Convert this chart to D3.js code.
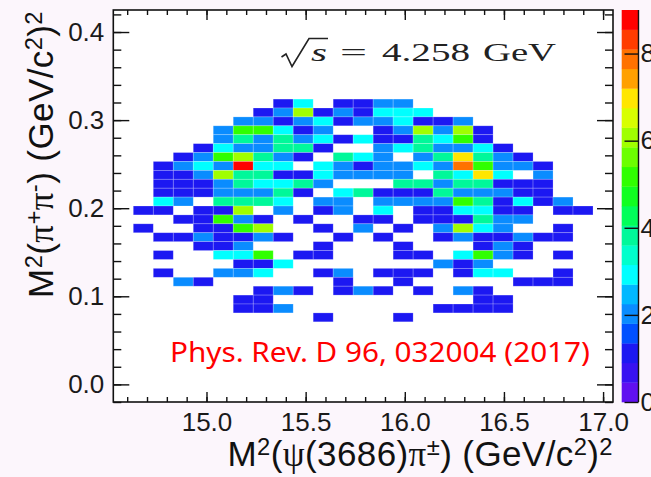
<!DOCTYPE html>
<html>
<head>
<meta charset="utf-8">
<script src="https://cdn.jsdelivr.net/npm/d3@7"></script>
<style>
  html, body { margin: 0; padding: 0; background: #fcf6fc; }
  svg { display: block; }
</style>
</head>
<body>
<svg id="chart" width="651" height="477"></svg>
<script>
// Dalitz plot: M^2(pi+ pi-) versus M^2(psi(3686) pi±) at sqrt(s) = 4.258 GeV

// Histogram binning (GeV^2 / c^4)
const xLow = 14.53, xHigh = 17.05, xBins = 25;
const yLow = -0.02, yHigh = 0.425, yBins = 44;
const topRowBin = 33;            // y-bin index of the first row below

// Event counts per cell; rows run from the top row (y-bin 33) down to y-bin 9,
// each row lists the 25 x-bins from left to right.
const counts = [
  [0,0,0,0,0,0,0,0,1,3,0,1,1,2,2,0,0,0,0,0,0,0,0,0,0],
  [0,0,0,0,0,0,0,1,2,6,1,2,1,3,3,3,0,0,0,0,0,0,0,0,0],
  [0,0,0,0,0,0,2,2,1,2,3,1,2,2,3,1,1,2,0,0,0,0,0,0,0],
  [0,0,0,0,0,2,5,5,3,1,2,0,0,1,2,6,2,6,1,0,0,0,0,0,0],
  [0,0,0,0,0,2,4,2,4,2,3,1,3,1,1,4,3,5,1,0,0,0,0,0,0],
  [0,0,0,0,1,3,2,2,4,4,1,0,0,2,3,4,2,2,3,1,0,0,0,0,0],
  [0,0,0,1,2,5,6,4,2,1,0,4,3,2,0,2,4,7,4,2,1,0,0,0,0],
  [0,0,1,2,3,2,9,3,3,0,3,2,1,2,2,3,2,8,5,2,2,1,0,0,0],
  [0,0,1,1,2,6,4,4,1,1,3,2,2,2,2,0,4,3,7,3,0,2,0,0,0],
  [0,0,1,1,1,2,4,3,3,4,2,0,0,0,4,4,2,4,4,1,1,1,0,0,0],
  [0,0,1,1,1,2,2,2,4,1,0,3,4,1,1,1,4,2,2,2,1,1,0,0,0],
  [0,0,3,2,0,4,4,4,3,0,2,2,0,2,2,2,2,5,4,1,3,1,2,0,0],
  [0,1,1,0,1,1,6,0,2,0,1,2,0,3,0,1,1,3,3,1,1,0,1,1,0],
  [0,0,0,1,1,5,2,1,0,1,0,0,1,1,0,1,1,1,4,2,2,0,0,0,0],
  [0,1,0,0,1,1,5,6,0,0,1,0,2,0,1,0,2,6,3,2,0,0,1,0,0],
  [0,0,1,1,2,1,1,2,1,0,0,1,0,1,0,0,1,2,1,1,2,1,1,0,0],
  [0,0,0,0,1,1,2,0,0,0,1,0,0,0,1,0,0,0,1,2,1,0,0,0,0],
  [0,0,1,0,0,3,3,5,0,1,1,0,0,0,1,1,0,3,5,2,1,0,1,0,0],
  [0,0,0,0,0,0,1,1,3,0,0,0,0,0,0,0,2,1,2,0,0,0,0,0,0],
  [0,0,1,0,0,2,2,3,0,0,1,2,0,1,1,1,0,1,3,3,0,0,1,0,0],
  [0,0,0,2,1,0,0,0,0,0,0,1,0,0,1,0,0,0,0,0,1,1,1,0,0],
  [0,0,0,0,0,0,0,1,2,1,0,1,2,1,0,1,0,2,1,0,0,0,0,0,0],
  [0,0,0,0,0,0,1,1,0,0,0,0,0,0,0,0,0,0,1,1,0,0,0,0,0],
  [0,0,0,0,0,0,1,1,2,0,0,0,0,0,0,0,1,1,1,1,0,0,0,0,0],
  [0,0,0,0,0,0,0,0,0,0,1,0,0,0,1,0,0,0,0,0,0,0,0,0,0]
];

// Axis labelling
const xTicks = [15.0, 15.5, 16.0, 16.5, 17.0];
const yTicks = [0.0, 0.1, 0.2, 0.3, 0.4];
const zTicks = [0, 2, 4, 6, 8];
const zMax = 9;
const refText = "Phys. Rev. D 96, 032004 (2017)";

// Axis titles as text runs: s = superscript, g = Greek letter
const xTitleRuns = [
  { t: "M" }, { t: "2", s: true }, { t: "(" }, { t: "\u03C8", g: true }, { t: "(3686)" },
  { t: "\u03C0", g: true }, { t: "\u00B1", s: true }, { t: ") (GeV/c" }, { t: "2", s: true },
  { t: ")" }, { t: "2", s: true }
];
const yTitleRuns = [
  { t: "M" }, { t: "2", s: true }, { t: "(" }, { t: "\u03C0", g: true }, { t: "+", s: true },
  { t: "\u03C0", g: true }, { t: "-", s: true }, { t: ") (GeV/c" }, { t: "2", s: true },
  { t: ")" }, { t: "2", s: true }
];

// 20-level rainbow palette, lowest to highest
const palette = [
  "#6010f0", "#3812f2", "#1c18f2", "#0050ff", "#0a8cff",
  "#00b8ff", "#00ffff", "#00ffcc", "#00f89a", "#00ff5a",
  "#10ff20", "#30ff00", "#6cff00", "#a0ff00", "#d8ff00",
  "#ffe600", "#ffa000", "#ff7200", "#ff3c00", "#ff0000"
];

const svg = d3.select("#chart");
const frame = { left: 113.3, right: 613, top: 10, bottom: 402 };
const sansFont = "'Liberation Sans', Arial, Helvetica, sans-serif";
const serifFont = "'Liberation Serif', 'Times New Roman', serif";

const x = d3.scaleLinear().domain([xLow, xHigh]).range([frame.left, frame.right]);
const y = d3.scaleLinear().domain([yLow, yHigh]).range([frame.bottom, frame.top]);
const color = d3.scaleQuantize().domain([0, zMax]).range(palette);

const xW = (xHigh - xLow) / xBins;
const yH = (yHigh - yLow) / yBins;

// plot area background
svg.append("rect")
  .attr("x", frame.left).attr("y", frame.top)
  .attr("width", frame.right - frame.left).attr("height", frame.bottom - frame.top)
  .attr("fill", "#ffffff");

// histogram cells
const cells = [];
counts.forEach((row, r) => {
  row.forEach((n, j) => {
    if (n > 0) cells.push({ i: j, k: topRowBin - r, n });
  });
});

svg.append("g").selectAll("rect").data(cells).join("rect")
  .attr("x", d => x(xLow + d.i * xW))
  .attr("y", d => y(yLow + (d.k + 1) * yH))
  .attr("width", d => x(xLow + (d.i + 1) * xW) - x(xLow + d.i * xW))
  .attr("height", d => y(yLow + d.k * yH) - y(yLow + (d.k + 1) * yH))
  .attr("fill", d => color(d.n))
  .attr("stroke", "rgba(255,255,255,0.3)")
  .attr("stroke-width", 0.7);

// axes: ticks point into the frame
const labelSize = 26;
function styleAxis(g) {
  g.select(".domain").remove();
  g.selectAll(".tick line").attr("stroke", "#111").attr("stroke-width", 1.4);
  g.selectAll("text").attr("font-family", sansFont).attr("font-size", labelSize).attr("fill", "#1a1a1a");
}

const xMinor = d3.range(146, 171).map(v => v / 10);
const yMinor = d3.range(-1, 22).map(v => v / 50);

svg.append("g").attr("transform", `translate(0,${frame.bottom})`)
  .call(d3.axisBottom(x).tickValues(xTicks).tickSizeInner(-10).tickSizeOuter(0)
    .tickPadding(11).tickFormat(d3.format(".1f")))
  .call(styleAxis);
svg.append("g").attr("transform", `translate(0,${frame.bottom})`)
  .call(d3.axisBottom(x).tickValues(xMinor).tickSizeInner(-5).tickSizeOuter(0).tickFormat(() => null))
  .call(styleAxis);
svg.append("g").attr("transform", `translate(0,${frame.top})`)
  .call(d3.axisTop(x).tickValues(xTicks).tickSizeInner(-10).tickSizeOuter(0).tickFormat(() => null))
  .call(styleAxis);
svg.append("g").attr("transform", `translate(0,${frame.top})`)
  .call(d3.axisTop(x).tickValues(xMinor).tickSizeInner(-5).tickSizeOuter(0).tickFormat(() => null))
  .call(styleAxis);

svg.append("g").attr("transform", `translate(${frame.left},0)`)
  .call(d3.axisLeft(y).tickValues(yTicks).tickSizeInner(-16).tickSizeOuter(0)
    .tickPadding(9).tickFormat(d3.format(".1f")))
  .call(styleAxis);
svg.append("g").attr("transform", `translate(${frame.left},0)`)
  .call(d3.axisLeft(y).tickValues(yMinor).tickSizeInner(-8).tickSizeOuter(0).tickFormat(() => null))
  .call(styleAxis);
svg.append("g").attr("transform", `translate(${frame.right},0)`)
  .call(d3.axisRight(y).tickValues(yTicks).tickSizeInner(-16).tickSizeOuter(0).tickFormat(() => null))
  .call(styleAxis);
svg.append("g").attr("transform", `translate(${frame.right},0)`)
  .call(d3.axisRight(y).tickValues(yMinor).tickSizeInner(-8).tickSizeOuter(0).tickFormat(() => null))
  .call(styleAxis);

// unlabelled ticks carry empty text nodes; drop them
svg.selectAll(".tick text").filter(function () { return !this.textContent; }).remove();

// frame
svg.append("rect")
  .attr("x", frame.left).attr("y", frame.top)
  .attr("width", frame.right - frame.left).attr("height", frame.bottom - frame.top)
  .attr("fill", "none").attr("stroke", "#111").attr("stroke-width", 1.6);

// colour scale bar
const bar = { left: 621.7, right: 638.5 };
const z = d3.scaleLinear().domain([0, zMax]).range([frame.bottom, frame.top]);
const bandW = zMax / palette.length;
svg.append("g").selectAll("rect").data(palette).join("rect")
  .attr("x", bar.left)
  .attr("y", (c, i) => z((i + 1) * bandW))
  .attr("width", bar.right - bar.left)
  .attr("height", (c, i) => z(i * bandW) - z((i + 1) * bandW) + 0.3)
  .attr("fill", c => c);

svg.append("g").attr("transform", `translate(${bar.right},0)`)
  .call(d3.axisRight(z).tickValues(zTicks).tickSizeInner(-14).tickSizeOuter(0).tickPadding(2))
  .call(g => {
    g.select(".domain").remove();
    g.selectAll(".tick line").attr("stroke", "#111").attr("stroke-width", 1.4);
    g.selectAll("text").attr("font-family", sansFont).attr("font-size", labelSize).attr("fill", "#1a1a1a");
  });
svg.append("line")
  .attr("x1", bar.right).attr("x2", bar.right)
  .attr("y1", frame.top).attr("y2", frame.bottom)
  .attr("stroke", "#111").attr("stroke-width", 1.4);

// axis titles
const titleSize = 35;
function writeRuns(textSel, runs) {
  const supScale = 0.68, rise = 0.45 * supScale * titleSize;
  let raised = false;
  runs.forEach(run => {
    const span = textSel.append("tspan").text(run.t);
    if (run.g) span.attr("font-family", serifFont);
    if (run.s) {
      span.attr("font-size", supScale * titleSize);
      if (!raised) span.attr("dy", -rise);
      raised = true;
    } else if (raised) {
      span.attr("dy", rise);
      raised = false;
    }
  });
}

const xTitle = svg.append("text")
  .attr("x", frame.right).attr("y", 466)
  .attr("text-anchor", "end")
  .attr("letter-spacing", 0.4)
  .attr("font-family", sansFont).attr("font-size", titleSize).attr("fill", "#111");
writeRuns(xTitle, xTitleRuns);

const yTitle = svg.append("text")
  .attr("transform", "translate(53,11) rotate(-90)")
  .attr("text-anchor", "end")
  .attr("letter-spacing", 0.4)
  .attr("font-family", sansFont).attr("font-size", titleSize).attr("fill", "#111");
writeRuns(yTitle, yTitleRuns);

// centre-of-mass energy label
const ecm = svg.append("g").attr("fill", "#222").attr("font-family", serifFont).attr("font-size", 25);
ecm.append("path")
  .attr("d", "M281.5,57 L286,54 L292,66.5 L309,38.5 H328")
  .attr("fill", "none").attr("stroke", "#222").attr("stroke-width", 1.6)
  .attr("stroke-linejoin", "miter");
ecm.append("text").attr("x", 311).attr("y", 61).attr("font-style", "italic")
  .attr("textLength", 16).attr("lengthAdjust", "spacingAndGlyphs").text("s");
ecm.append("text").attr("x", 340).attr("y", 61)
  .attr("textLength", 27).attr("lengthAdjust", "spacingAndGlyphs").text("=");
ecm.append("text").attr("x", 382).attr("y", 61)
  .attr("textLength", 88).attr("lengthAdjust", "spacingAndGlyphs").text("4.258");
ecm.append("text").attr("x", 483).attr("y", 61)
  .attr("textLength", 73).attr("lengthAdjust", "spacingAndGlyphs").text("GeV");

// publication reference
svg.append("text")
  .attr("x", 170).attr("y", 362)
  .attr("font-family", "'Noto Sans', sans-serif").attr("font-size", 27)
  .attr("fill", "#ff0000")
  .attr("textLength", 420).attr("lengthAdjust", "spacingAndGlyphs")
  .text(refText);
</script>
</body>
</html>
